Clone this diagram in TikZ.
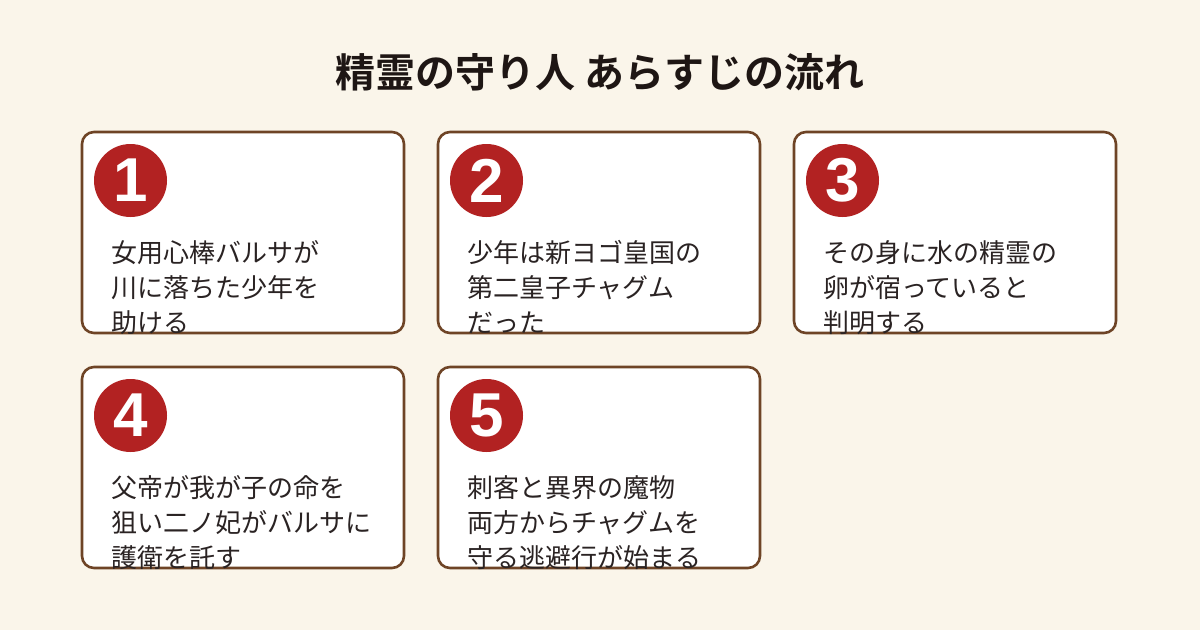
\documentclass[tikz,border=0pt]{standalone}
\usepackage{fontspec}
\newfontfamily\jp{Noto Sans CJK JP}
\newfontfamily\jpb{Noto Sans CJK JP Bold}
\newfontfamily\numf{Liberation Sans}
\definecolor{bgc}{HTML}{FAF5EA}
\definecolor{brd}{HTML}{6E4426}
\definecolor{redc}{HTML}{B22222}
\definecolor{ttl}{HTML}{1E1614}
\definecolor{txt}{HTML}{2A2323}
\tikzset{
  card/.style={draw=brd, fill=white, line width=2.6pt, rounded corners=12pt, minimum width=322pt, minimum height=201pt, inner sep=0pt},
  numc/.style={circle, fill=redc, minimum size=73pt, inner sep=0pt, text=white, font=\numf\bfseries\fontsize{62pt}{62pt}\selectfont},
  body/.style={anchor=base west, inner sep=0pt, text=txt, font=\jp\fontsize{26pt}{35pt}\selectfont},
  title/.style={anchor=base, inner sep=0pt, text=ttl, font=\jpb\fontsize{40pt}{40pt}\selectfont}
}
\begin{document}
\begin{tikzpicture}[x=1pt,y=-1pt]
\useasboundingbox (0,0) rectangle (1200,630);
\fill[bgc] (0,0) rectangle (1200,630);
\node[title] (title) at (600,87) {精霊の守り人 あらすじの流れ};
% cards
\node[card] (c1) at (243,232.5) {};
\node[card] (c2) at (599,232.5) {};
\node[card] (c3) at (955,232.5) {};
\node[card] (c4) at (243,467.5) {};
\node[card] (c5) at (599,467.5) {};
% numbers
\node[numc] (n1) at (130.5,180.5) {1};
\node[numc] (n2) at (486.5,180.5) {2};
\node[numc] (n3) at (842.5,180.5) {3};
\node[numc] (n4) at (130.5,415.5) {4};
\node[numc] (n5) at (486.5,415.5) {5};
% texts
\node[body] (t1a) at (111,262) {女用心棒バルサが};
\node[body] (t1b) at (111,297) {川に落ちた少年を};
\node[body] (t1c) at (111,332) {助ける};
\node[body] (t2a) at (467,262) {少年は新ヨゴ皇国の};
\node[body] (t2b) at (467,297) {第二皇子チャグム};
\node[body] (t2c) at (467,332) {だった};
\node[body] (t3a) at (823,262) {その身に水の精霊の};
\node[body] (t3b) at (823,297) {卵が宿っていると};
\node[body] (t3c) at (823,332) {判明する};
\node[body] (t4a) at (111,497) {父帝が我が子の命を};
\node[body] (t4b) at (111,532) {狙い二ノ妃がバルサに};
\node[body] (t4c) at (111,567) {護衛を託す};
\node[body] (t5a) at (467,497) {刺客と異界の魔物};
\node[body] (t5b) at (467,532) {両方からチャグムを};
\node[body] (t5c) at (467,567) {守る逃避行が始まる};
\end{tikzpicture}
\end{document}
